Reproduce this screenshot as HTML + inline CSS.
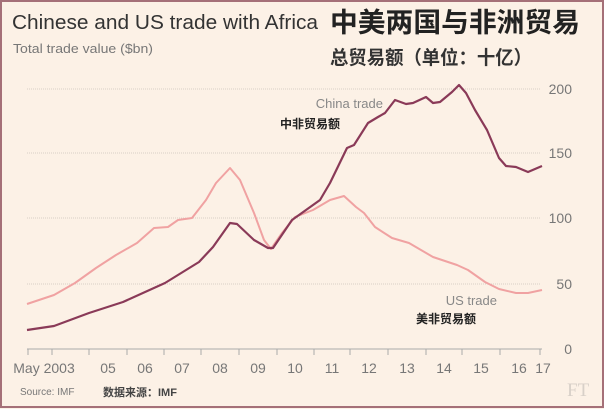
<!DOCTYPE html>
<html><head><meta charset="utf-8"><style>
html,body{margin:0;padding:0;background:#fff;}
#c{width:604px;height:409px;position:relative;overflow:hidden;}
svg{display:block}
</style></head><body><div id="c">
<svg width="604" height="409" xmlns="http://www.w3.org/2000/svg" font-family="'Liberation Sans','Noto Sans CJK SC',sans-serif">
<rect x="0" y="0" width="604" height="409" fill="#fcf1e6"/>
<rect x="1" y="1" width="602" height="406" fill="none" stroke="#a57078" stroke-width="2"/>
<text x="12" y="29" font-size="20" fill="#333" textLength="306" lengthAdjust="spacingAndGlyphs">Chinese and US trade with Africa</text>
<text x="330" y="32" font-size="27" font-weight="bold" fill="#222" font-family="'Noto Sans CJK SC',sans-serif" textLength="250" lengthAdjust="spacingAndGlyphs">中美两国与非洲贸易</text>
<text x="13" y="53" font-size="12.5" fill="#777" textLength="140" lengthAdjust="spacingAndGlyphs">Total trade value ($bn)</text>
<text x="330" y="64" font-size="19" font-weight="bold" fill="#333" font-family="'Noto Sans CJK SC',sans-serif" textLength="202" lengthAdjust="spacingAndGlyphs">总贸易额（单位：十亿）</text>
<g stroke="#d9cfc6" stroke-width="1" stroke-dasharray="1,1">
<line x1="27" y1="89" x2="540" y2="89"/><line x1="27" y1="153" x2="540" y2="153"/>
<line x1="27" y1="218" x2="540" y2="218"/><line x1="27" y1="284" x2="540" y2="284"/>
</g>
<g font-size="14" fill="#777" text-anchor="end">
<text x="572" y="94">200</text><text x="572" y="158">150</text><text x="572" y="223">100</text><text x="572" y="289">50</text><text x="572" y="354">0</text>
</g>
<g stroke="#aaa" stroke-width="1">
<line x1="27" y1="349" x2="542" y2="349"/>
<line x1="28" y1="349" x2="28" y2="355"/><line x1="52" y1="349" x2="52" y2="355"/><line x1="89" y1="349" x2="89" y2="355"/><line x1="127" y1="349" x2="127" y2="355"/><line x1="164" y1="349" x2="164" y2="355"/><line x1="201" y1="349" x2="201" y2="355"/><line x1="239" y1="349" x2="239" y2="355"/><line x1="277" y1="349" x2="277" y2="355"/><line x1="314" y1="349" x2="314" y2="355"/><line x1="350" y1="349" x2="350" y2="355"/><line x1="388" y1="349" x2="388" y2="355"/><line x1="426" y1="349" x2="426" y2="355"/><line x1="462" y1="349" x2="462" y2="355"/><line x1="500" y1="349" x2="500" y2="355"/><line x1="540" y1="349" x2="540" y2="355"/>
</g>
<g font-size="14" fill="#777" text-anchor="middle">
<text x="44" y="373">May 2003</text><text x="108" y="373">05</text><text x="145" y="373">06</text><text x="182" y="373">07</text><text x="220" y="373">08</text><text x="258" y="373">09</text><text x="295" y="373">10</text><text x="332" y="373">11</text><text x="369" y="373">12</text><text x="407" y="373">13</text><text x="444" y="373">14</text><text x="481" y="373">15</text><text x="519" y="373">16</text><text x="543" y="373">17</text>
</g>
<text x="20" y="395" font-size="10" fill="#777">Source: IMF</text>
<text x="103" y="396" font-size="11" font-weight="bold" fill="#444">数据来源：IMF</text>
<text x="567" y="396" font-size="19" fill="#d8d0c8" font-family="'Liberation Serif',serif">FT</text>
<polyline fill="none" stroke="#f0a2a2" stroke-width="2" stroke-linejoin="round" points="27,304 54,295 75,283 96,268 116,255 137,243 154,228 168,227 178,220 192,218 206,200 216,183 230,168 240,180 254,213 264,240 271,249 282,233 295,217 313,210 330,200 344,196 356,207 364,213 375,227 392,238 409,243 433,257 457,265 468,270 485,282 499,289 516,293 528,293 542,290"/>
<polyline fill="none" stroke="#8a3a58" stroke-width="2.2" stroke-linejoin="round" points="27,330 54,326 89,313 123,302 165,283 199,262 213,247 230,223 237,224 254,240 268,248 273,248 292,220 306,210 320,200 330,183 347,148 354,145 368,123 378,117 385,113 395,100 406,104 413,103 426,97 433,103 440,102 452,92 459,85 466,93 475,110 487,130 499,158 506,166 516,167 528,172 535,169 542,166"/>
<text x="383" y="108" font-size="13" fill="#888" text-anchor="end">China trade</text>
<text x="280" y="128" font-size="12" font-weight="bold" fill="#222">中非贸易额</text>
<text x="497" y="305" font-size="13" fill="#888" text-anchor="end">US trade</text>
<text x="416" y="323" font-size="12" font-weight="bold" fill="#222">美非贸易额</text>
</svg></div></body></html>
